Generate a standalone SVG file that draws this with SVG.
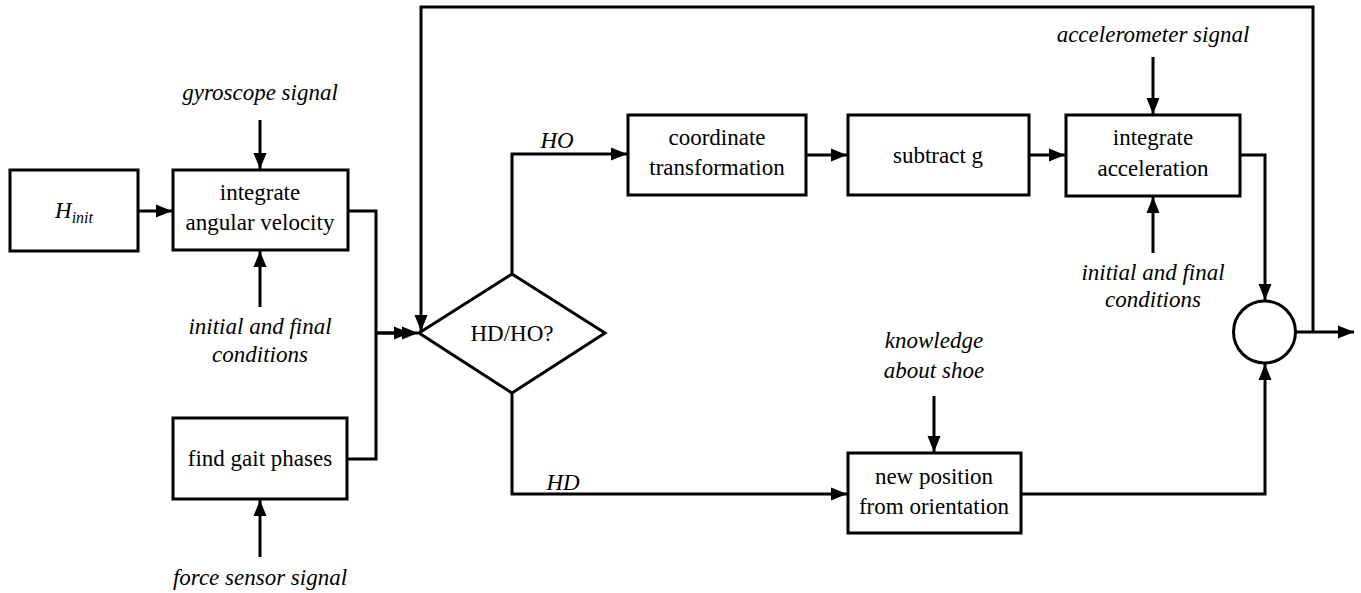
<svg xmlns="http://www.w3.org/2000/svg" width="1361" height="593" viewBox="0 0 1361 593">
<defs>
<style>
.box{fill:#fff;stroke:#000;stroke-width:3}
.ln{fill:none;stroke:#000;stroke-width:3}
text{font-family:'Liberation Serif','Tinos','Times New Roman','DejaVu Serif',serif;font-size:23px;fill:#000;text-anchor:middle}
.i{font-style:italic}
</style>
<marker id="ah" markerUnits="userSpaceOnUse" markerWidth="17" markerHeight="14" refX="16" refY="7" orient="auto" viewBox="0 0 17 14">
<path d="M0,0.5 L16,7 L0,13.5 z" fill="#000"/>
</marker>
</defs>
<rect width="1361" height="593" fill="#fff"/>
<g id="connectors">
<line class="ln" x1="138" y1="211" x2="172" y2="211" marker-end="url(#ah)"/>
<line class="ln" x1="260" y1="120" x2="260" y2="169" marker-end="url(#ah)"/>
<line class="ln" x1="260" y1="307" x2="260" y2="251" marker-end="url(#ah)"/>
<path class="ln" d="M348,211 H376 V459 H347"/>
<line class="ln" x1="376" y1="333" x2="410" y2="333" marker-end="url(#ah)"/>
<line class="ln" x1="376" y1="333" x2="418" y2="333" marker-end="url(#ah)"/>
<line class="ln" x1="260" y1="557" x2="260" y2="500" marker-end="url(#ah)"/>
<path class="ln" d="M1313,332 V7 H421 V331" marker-end="url(#ah)"/>
<line class="ln" x1="1296" y1="332" x2="1354" y2="332" marker-end="url(#ah)"/>
<path class="ln" d="M512,274 V154 H627" marker-end="url(#ah)"/>
<line class="ln" x1="806" y1="155" x2="847" y2="155" marker-end="url(#ah)"/>
<line class="ln" x1="1029" y1="155" x2="1065" y2="155" marker-end="url(#ah)"/>
<line class="ln" x1="1153" y1="57" x2="1153" y2="114" marker-end="url(#ah)"/>
<line class="ln" x1="1153" y1="253" x2="1153" y2="197" marker-end="url(#ah)"/>
<path class="ln" d="M1240,155 H1265 V300" marker-end="url(#ah)"/>
<path class="ln" d="M512,393 V494 H847" marker-end="url(#ah)"/>
<line class="ln" x1="934" y1="396" x2="934" y2="452" marker-end="url(#ah)"/>
<path class="ln" d="M1021,494 H1265 V364" marker-end="url(#ah)"/>
<text class="i" x="557" y="148">HO</text>
<text class="i" x="563" y="490">HD</text>
</g>
<g id="hinit">
<rect class="box" x="10" y="170" width="128" height="81"/>
<text x="74" y="218"><tspan class="i">H</tspan><tspan class="i" font-size="16" dy="5">init</tspan></text>
</g>
<g id="integrate-angular">
<rect class="box" x="173" y="170" width="175" height="80"/>
<text x="260" y="200">integrate</text>
<text x="260" y="230">angular velocity</text>
</g>
<g id="gyroscope-signal"><text class="i" x="260" y="100">gyroscope signal</text></g>
<g id="init-cond-left">
<text class="i" x="260" y="334">initial and final</text>
<text class="i" x="260" y="362">conditions</text>
</g>
<g id="find-gait">
<rect class="box" x="173" y="418" width="174" height="81"/>
<text x="260" y="466">find gait phases</text>
</g>
<g id="force-sensor"><text class="i" x="260" y="585">force sensor signal</text></g>
<g id="decision">
<polygon class="box" points="419,333 512,274 605,333 512,393"/>
<text x="512" y="341">HD/HO?</text>
</g>
<g id="coord-transform">
<rect class="box" x="628" y="115" width="178" height="80"/>
<text x="717" y="145">coordinate</text>
<text x="717" y="175">transformation</text>
</g>
<g id="subtract-g">
<rect class="box" x="848" y="115" width="181" height="80"/>
<text x="938" y="163">subtract g</text>
</g>
<g id="integrate-acc">
<rect class="box" x="1066" y="115" width="174" height="81"/>
<text x="1153" y="145">integrate</text>
<text x="1153" y="176">acceleration</text>
</g>
<g id="accel-signal"><text class="i" x="1153" y="42">accelerometer signal</text></g>
<g id="init-cond-right">
<text class="i" x="1153" y="280">initial and final</text>
<text class="i" x="1153" y="307">conditions</text>
</g>
<g id="sum">
<circle class="box" cx="1264.5" cy="332" r="31"/>
</g>
<g id="knowledge">
<text class="i" x="934" y="348">knowledge</text>
<text class="i" x="934" y="378">about shoe</text>
</g>
<g id="new-position">
<rect class="box" x="848" y="453" width="173" height="80"/>
<text x="934" y="484">new position</text>
<text x="934" y="514">from orientation</text>
</g>
</svg>
